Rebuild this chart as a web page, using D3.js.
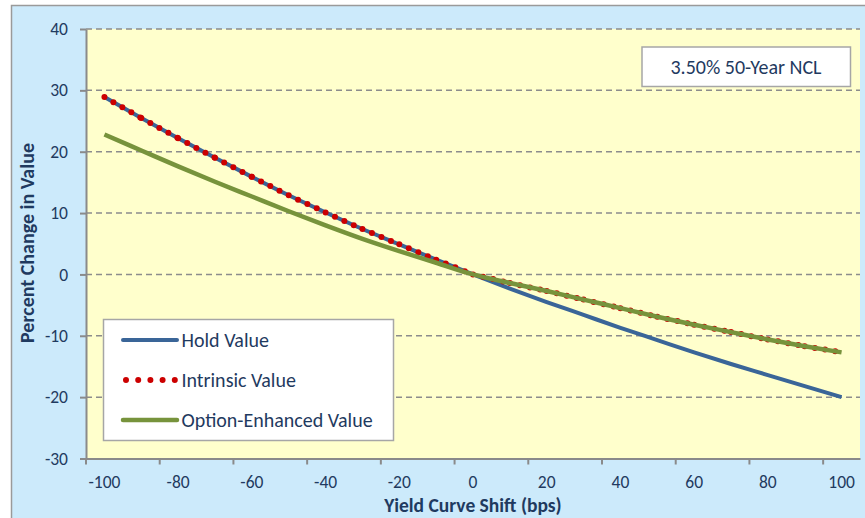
<!DOCTYPE html>
<html>
<head>
<meta charset="utf-8">
<script src="https://cdn.jsdelivr.net/npm/d3@7"></script>
<style>
  html, body { margin: 0; padding: 0; background: #ffffff; }
  svg { display: block; }
  text { font-family: Carlito, Lato, "Open Sans", sans-serif; fill: #1f3a60; }
</style>
</head>
<body>
<svg id="chart" width="865" height="518"></svg>
<script>
// ---- data ----
const categories = [-100, -90, -80, -70, -60, -50, -40, -30, -20, -10, 0, 10, 20, 30, 40, 50, 60, 70, 80, 90, 100];
const holdValue = [28.9, 25.5, 22.2, 19.0, 15.9, 12.9, 10.1, 7.4, 4.9, 2.4, 0, -2.3, -4.5, -6.6, -8.7, -10.7, -12.7, -14.6, -16.4, -18.2, -20.0];
const intrinsicValue = [28.9, 25.5, 22.2, 19.0, 15.9, 12.9, 10.1, 7.4, 4.9, 2.4, 0, -1.4, -2.7, -4.1, -5.5, -6.9, -8.2, -9.4, -10.6, -11.7, -12.7];
const optionEnhancedValue = [22.8, 20.2, 17.6, 15.1, 12.7, 10.3, 8.0, 5.8, 3.8, 1.9, 0, -1.4, -2.7, -4.1, -5.5, -6.9, -8.2, -9.4, -10.6, -11.7, -12.7];
const yTicks = [-30, -20, -10, 0, 10, 20, 30, 40];
const xTickLabels = [-100, -80, -60, -40, -20, 0, 20, 40, 60, 80, 100];
const seriesNames = ["Hold Value", "Intrinsic Value", "Option-Enhanced Value"];
const titleText = "3.50% 50-Year NCL";
const xTitle = "Yield Curve Shift (bps)";
const yTitle = "Percent Change in Value";

// ---- layout ----
const svg = d3.select("#chart");
const plot = { left: 86, right: 860, top: 29, bottom: 458.5 };
const FONT = "Carlito, Lato, sans-serif";

// outer chart area
svg.append("rect").attr("x", 11.5).attr("y", 5.5).attr("width", 870).attr("height", 530)
  .attr("fill", "#cceafb").attr("stroke", "#9a9a9a").attr("stroke-width", 1.5);

// plot area
svg.append("rect").attr("x", plot.left).attr("y", plot.top)
  .attr("width", plot.right - plot.left).attr("height", plot.bottom - plot.top)
  .attr("fill", "#ffffcc");

const x = d3.scaleBand().domain(categories).range([plot.left, plot.right]).padding(0);
const bw = x.bandwidth();
const xc = d => x(d) + bw / 2;
const y = d3.scaleLinear().domain([-30, 40]).range([plot.bottom, plot.top]);

// gridlines
svg.append("g").selectAll("line").data(yTicks.filter(v => v > -30)).join("line")
  .attr("x1", plot.left).attr("x2", plot.right)
  .attr("y1", d => y(d)).attr("y2", d => y(d))
  .attr("stroke", "#8c8c8c").attr("stroke-width", 1.5).attr("stroke-dasharray", "6 4");

// y axis
const yAxis = svg.append("g").attr("transform", `translate(${plot.left},0)`)
  .call(d3.axisLeft(y).tickValues(yTicks).tickFormat(d => String(d))
    .tickSize(6).tickPadding(12).tickSizeOuter(0));
yAxis.select(".domain").attr("stroke", "#8a8a8a").attr("stroke-width", 2);
yAxis.selectAll(".tick line").attr("stroke", "#8a8a8a").attr("stroke-width", 2);
yAxis.selectAll(".tick text").attr("font-size", 17.5).attr("fill", "#1f3a60")
  .style("font-family", FONT);

// x axis
const xAxis = svg.append("g").attr("transform", `translate(0,${plot.bottom})`)
  .call(d3.axisBottom(x).tickValues(xTickLabels).tickFormat(d => String(d))
    .tickSize(6).tickSizeOuter(0));
xAxis.select(".domain").attr("stroke", "#8a8a8a").attr("stroke-width", 2);
xAxis.selectAll(".tick line").attr("stroke", "#8a8a8a").attr("stroke-width", 2)
  .attr("x1", -bw / 2).attr("x2", -bw / 2);
xAxis.selectAll(".tick text").attr("font-size", 17.5).attr("fill", "#1f3a60")
  .attr("y", 17).style("font-family", FONT);

// series
const line = d3.line().x(d => xc(d[0])).y(d => y(d[1])).curve(d3.curveMonotoneX);
const holdPts = categories.map((c, i) => [c, holdValue[i]]);
const intrPts = categories.map((c, i) => [c, intrinsicValue[i]]);
const optPts = categories.map((c, i) => [c, optionEnhancedValue[i]]);

svg.append("path").datum(holdPts).attr("d", line)
  .attr("fill", "none").attr("stroke", "#3a6598").attr("stroke-width", 4).attr("stroke-linejoin", "round");

// intrinsic: dotted, pattern restarting on each segment
const segs = d3.pairs(intrPts);
svg.append("g").selectAll("path").data(segs).join("path")
  .attr("d", d => d3.line().x(p => xc(p[0])).y(p => y(p[1]))(d))
  .attr("fill", "none").attr("stroke", "#cc0000").attr("stroke-width", 6)
  .attr("stroke-linecap", "round").attr("stroke-dasharray", "0 10.3");

svg.append("path").datum(optPts).attr("d", line)
  .attr("fill", "none").attr("stroke", "#77933c").attr("stroke-width", 4.5).attr("stroke-linejoin", "round");

// legend
const lg = svg.append("g");
lg.append("rect").attr("x", 103.5).attr("y", 319.5).attr("width", 290).attr("height", 121)
  .attr("fill", "#ffffff").attr("stroke", "#a6a6a6").attr("stroke-width", 1.5);
const rowsY = [340, 380, 420];
const styles = [
  { stroke: "#3a6598", width: 4, dash: null, cap: "round", x1: 123, x2: 177 },
  { stroke: "#cc0000", width: 6, dash: "0 12.2", cap: "round", x1: 126, x2: 176 },
  { stroke: "#77933c", width: 4.5, dash: null, cap: "round", x1: 123, x2: 177 }
];
seriesNames.forEach((name, i) => {
  const s = styles[i];
  lg.append("line").attr("x1", s.x1).attr("x2", s.x2).attr("y1", rowsY[i]).attr("y2", rowsY[i])
    .attr("stroke", s.stroke).attr("stroke-width", s.width).attr("stroke-linecap", s.cap)
    .attr("stroke-dasharray", s.dash);
  lg.append("text").attr("x", 181.5).attr("y", rowsY[i]).attr("dy", "0.35em")
    .attr("font-size", 20).text(name);
});

// title box
svg.append("rect").attr("x", 642).attr("y", 47).attr("width", 208.5).attr("height", 39.5)
  .attr("fill", "#ffffff").attr("stroke", "#a6a6a6").attr("stroke-width", 1.5);
svg.append("text").attr("x", 746).attr("y", 67).attr("dy", "0.35em").attr("text-anchor", "middle")
  .attr("font-size", 20).text(titleText);

// axis titles
svg.append("text").attr("x", 473).attr("y", 512).attr("text-anchor", "middle")
  .attr("font-size", 19.5).attr("font-weight", "bold").text(xTitle);
svg.append("text").attr("transform", "translate(27,243) rotate(-90)").attr("dy", "0.35em")
  .attr("text-anchor", "middle").attr("font-size", 20).attr("font-weight", "bold").text(yTitle);
</script>
</body>
</html>
